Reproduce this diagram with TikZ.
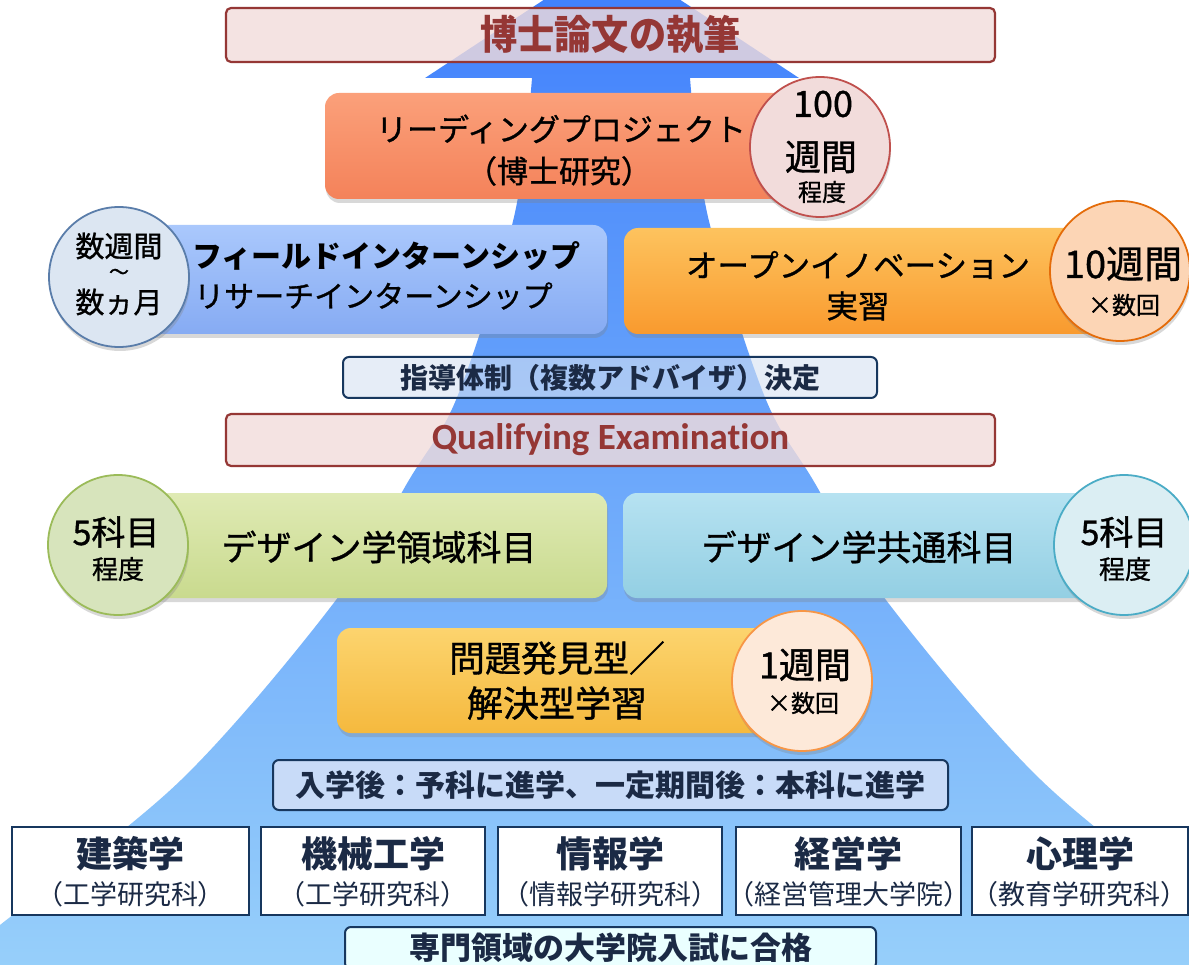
\documentclass[tikz,border=0pt]{standalone}
\usepackage{fontspec}
\usepackage{graphicx}
\setmainfont{Noto Sans CJK JP}
\newfontfamily\medfont{Noto Sans CJK JP}[FakeBold=1.0]
\newfontfamily\calib{Carlito}[Ligatures=NoCommon]
\usetikzlibrary{shadows}
\newcommand{\fsz}[1]{\fontsize{#1}{#1}\selectfont}
\definecolor{arrtop}{RGB}{62,126,252}
\definecolor{arrmid}{RGB}{116,178,238}
\definecolor{arrbot}{RGB}{152,208,250}
\definecolor{pinkfill}{HTML}{F2DCDB}
\definecolor{pinkline}{HTML}{953735}
\definecolor{navy}{HTML}{17375E}
\definecolor{navytext}{HTML}{1B2A45}
\definecolor{lptop}{HTML}{FBA07A}
\definecolor{lpbot}{HTML}{F4825A}
\definecolor{cHfill}{HTML}{F2DCDB}
\definecolor{cHline}{HTML}{C0504D}
\definecolor{ibtop}{HTML}{AAC8FC}
\definecolor{ibbot}{HTML}{86ABF3}
\definecolor{cwfill}{HTML}{DCE6F2}
\definecolor{cwline}{HTML}{5A7DAA}
\definecolor{oitop}{HTML}{FDC35E}
\definecolor{oibot}{HTML}{F99A2E}
\definecolor{ctfill}{HTML}{FCD5B5}
\definecolor{ctline}{HTML}{E46C0A}
\definecolor{guidefill}{HTML}{D6E2F2}
\definecolor{grtop}{HTML}{DFEAB4}
\definecolor{grbot}{HTML}{C9DA8E}
\definecolor{cgfill}{HTML}{D7E4BC}
\definecolor{cgline}{HTML}{9BBB59}
\definecolor{lbtop}{HTML}{B6E2F1}
\definecolor{lbbot}{HTML}{93CFE3}
\definecolor{clfill}{HTML}{DBEEF3}
\definecolor{clline}{HTML}{4BACC6}
\definecolor{yetop}{HTML}{FCD46E}
\definecolor{yebot}{HTML}{F5B93E}
\definecolor{cyfill}{HTML}{FDE9D9}
\definecolor{cyline}{HTML}{F79646}
\definecolor{admfill}{HTML}{C8DBF8}
\definecolor{examfill}{HTML}{EAFFFF}
\begin{document}
\begin{tikzpicture}[x=1pt,y=-1pt,
  txt/.style={inner sep=0pt},
  pinkbox/.style={draw=pinkline, line width=2.2pt, fill=pinkfill, fill opacity=0.8, text opacity=1, rounded corners=5pt, inner sep=0pt, text=pinkline},
  cbox/.style={rounded corners=14pt, inner sep=0pt, drop shadow={shadow xshift=1pt, shadow yshift=-4pt, opacity=0.3}},
  circ/.style={circle, inner sep=0pt, minimum size=140pt, line width=1.8pt, drop shadow={shadow xshift=1pt, shadow yshift=-4pt, opacity=0.3}},
  infobox/.style={draw=navy, line width=2pt, rounded corners=6pt, inner sep=0pt, text=navytext, font=\bfseries},
  dept/.style={draw=navy, line width=2.5pt, fill=white, inner sep=0pt, minimum height=88pt},
  depttitle/.style={txt, text=navytext, font=\bfseries\fsz{36}},
  deptsub/.style={txt, text=navytext, font=\fsz{27}}]
\useasboundingbox (0,0) rectangle (1189,965);
\begin{scope}
\clip (0,0) rectangle (1189,965);
\fill[white] (0,0) rectangle (1189,965);
% background arrow
\shade[top color=arrtop, middle color=arrmid, bottom color=arrbot]
  (612,-45) -- (799,78) -- (690,78)
  -- plot[smooth,tension=0.55] coordinates {(690,78) (708,217) (764,395) (813,480) (886,600) (1041,780) (1222,925) (1292,980)}
  -- (-70,980)
  -- plot[smooth,tension=0.55] coordinates {(-70,980) (0,925) (181,780) (336,600) (409,480) (458,395) (514,217) (532,78)}
  -- (425,78) -- cycle;

% thesis
\node[pinkbox, minimum width=769pt, minimum height=54pt, font=\bfseries\fsz{40}] (thesis) at (610.5,35) {\scalebox{0.93}[1]{博士論文の執筆}};

% leading project
\node[cbox, top color=lptop, bottom color=lpbot, minimum width=480pt, minimum height=106pt] (lp) at (565,146) {};
\node[txt, font=\medfont\fsz{31}] (lpt1) at (561,129) {リーディングプロジェクト};
\node[txt, font=\medfont\fsz{31}] (lpt2) at (559,171) {（博士研究）};
\node[circ, draw=cHline, fill=cHfill] (cH) at (820,147) {};
\node[txt, font=\medfont\fsz{36}] (cHa) at (823,104) {100};
\node[txt, font=\medfont\fsz{36}] (cHb) at (821,157) {週間};
\node[txt, font=\medfont\fsz{24}] (cHc) at (822,192) {程度};

% internships
\node[cbox, top color=ibtop, bottom color=ibbot, minimum width=467pt, minimum height=109pt] (ib) at (373.5,279.5) {};
\node[txt, anchor=west, font=\bfseries\fsz{30}] (ibt1) at (192,256) {フィールドインターンシップ};
\node[txt, anchor=west, font=\medfont\fsz{30}] (ibt2) at (194,296) {リサーチインターンシップ};
\node[circ, draw=cwline, fill=cwfill] (cw) at (119,277) {};
\node[txt, font=\medfont\fsz{29}] (cwa) at (119,246) {数週間};
\node[txt, font=\medfont\fsz{20}] (cwb) at (119,274) {～};
\node[txt, font=\medfont\fsz{29}] (cwc) at (119,302) {数ヵ月};

% open innovation
\node[cbox, top color=oitop, bottom color=oibot, minimum width=486pt, minimum height=106pt] (oi) at (867,281) {};
\node[txt, font=\medfont\fsz{31.5}] (oit1) at (858,265) {オープンイノベーション};
\node[txt, font=\medfont\fsz{31.5}] (oit2) at (858,306) {実習};
\node[circ, draw=ctline, fill=ctfill] (ct) at (1120,271) {};
\node[txt, font=\medfont\fsz{38}] (cta) at (1123,264) {10週間};
\node[txt, font=\medfont\fsz{24}] (ctb) at (1124,305) {×数回};

% advisors
\node[infobox, fill=guidefill, fill opacity=0.6, text opacity=1, minimum width=534pt, minimum height=41pt, font=\bfseries\fsz{28}] (guide) at (610,377.5) {指導体制（複数アドバイザ）決定};

% qualifying examination
\node[pinkbox, minimum width=769pt, minimum height=52pt, font=\calib\bfseries\fsz{37}] (qe) at (610.5,440) {Qualifying Examination};

% design subjects
\node[cbox, top color=grtop, bottom color=grbot, minimum width=497pt, minimum height=105pt] (dr) at (358.5,545.5) {};
\node[txt, font=\medfont\fsz{35}] (drt) at (379,547) {デザイン学領域科目};
\node[cbox, top color=lbtop, bottom color=lbbot, minimum width=497pt, minimum height=105pt] (dc) at (871.5,545.5) {};
\node[txt, font=\medfont\fsz{35}] (dct) at (859,547) {デザイン学共通科目};
\node[circ, draw=cgline, fill=cgfill] (cg) at (118,545) {};
\node[txt, font=\medfont\fsz{34}] (cga) at (116,532) {5科目};
\node[txt, font=\medfont\fsz{26}] (cgb) at (118,569) {程度};
\node[circ, draw=clline, fill=clfill] (cl) at (1124,545) {};
\node[txt, font=\medfont\fsz{34}] (cla) at (1124,532) {5科目};
\node[txt, font=\medfont\fsz{26}] (clb) at (1125,569) {程度};

% problem based learning
\node[cbox, top color=yetop, bottom color=yebot, minimum width=453pt, minimum height=105pt] (ps) at (563.5,680.5) {};
\node[txt, font=\medfont\fsz{36}] (pst1) at (557,658) {問題発見型／};
\node[txt, font=\medfont\fsz{36}] (pst2) at (557,703) {解決型学習};
\node[circ, draw=cyline, fill=cyfill] (cy) at (802,681) {};
\node[txt, font=\medfont\fsz{36}] (cya) at (805,665) {1週間};
\node[txt, font=\medfont\fsz{24}] (cyb) at (803,703) {×数回};

% admission
\node[infobox, fill=admfill, minimum width=675pt, minimum height=50pt, font=\bfseries\fsz{30}] (adm) at (610.5,785) {入学後：予科に進学、一定期間後：本科に進学};

% departments
\node[dept, minimum width=237pt] (d1) at (130.5,871) {};
\node[depttitle] (d1a) at (130.5,854) {建築学};
\node[deptsub] (d1b) at (130.5,894) {（工学研究科）};
\node[dept, minimum width=224pt] (d2) at (373,871) {};
\node[depttitle] (d2a) at (373,854) {機械工学};
\node[deptsub] (d2b) at (373,894) {（工学研究科）};
\node[dept, minimum width=224pt] (d3) at (610,871) {};
\node[depttitle] (d3a) at (610,854) {情報学};
\node[deptsub] (d3b) at (610,894) {（情報学研究科）};
\node[dept, minimum width=225pt] (d4) at (848.5,871) {};
\node[depttitle] (d4a) at (848.5,854) {経営学};
\node[deptsub] (d4b) at (848.5,894) {（経営管理大学院）};
\node[dept, minimum width=216pt] (d5) at (1080,871) {};
\node[depttitle] (d5a) at (1080,854) {心理学};
\node[deptsub] (d5b) at (1079,894) {（教育学研究科）};

% entrance exam
\node[infobox, fill=examfill, minimum width=531pt, minimum height=42pt, font=\bfseries\fsz{31}] (exam) at (610.5,948) {専門領域の大学院入試に合格};
\end{scope}
\end{tikzpicture}
\end{document}
